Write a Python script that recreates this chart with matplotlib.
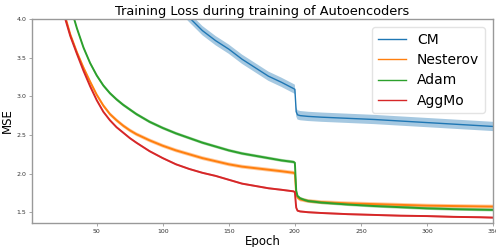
import matplotlib
matplotlib.use("Agg")
import matplotlib.pyplot as plt
import numpy as np

# epochs where the curves were sampled off the picture
epochs = [1, 10, 20, 25, 30, 35, 40, 45, 50, 55, 60, 65, 70, 75, 80, 90, 100,
          110, 120, 130, 140, 150, 160, 170, 180, 190, 199, 200, 201, 202, 204,
          207, 210, 220, 240, 260, 280, 300, 320, 340, 350]

cm_mse = [12.0, 9.0, 7.6, 7.0, 6.5, 6.1, 5.8, 5.5, 5.3, 5.1, 4.95, 4.85, 4.75,
          4.65, 4.58, 4.48, 4.40, 4.20, 4.02, 3.85, 3.72, 3.61, 3.48, 3.37,
          3.26, 3.18, 3.10, 3.09, 2.80, 2.76, 2.75, 2.745, 2.74, 2.73, 2.715,
          2.70, 2.68, 2.66, 2.64, 2.62, 2.61]
nesterov_mse = [8.0, 5.9, 4.55, 4.10, 3.80, 3.57, 3.37, 3.19, 3.02, 2.88, 2.77,
                2.69, 2.62, 2.56, 2.51, 2.43, 2.36, 2.30, 2.25, 2.20, 2.16,
                2.12, 2.09, 2.07, 2.05, 2.03, 2.01, 2.00, 1.74, 1.69, 1.665,
                1.655, 1.645, 1.63, 1.615, 1.605, 1.595, 1.585, 1.58, 1.575,
                1.573]
adam_mse = [9.0, 6.8, 5.1, 4.52, 4.17, 3.88, 3.63, 3.43, 3.27, 3.14, 3.04, 2.96,
            2.89, 2.83, 2.77, 2.67, 2.59, 2.52, 2.46, 2.40, 2.35, 2.30, 2.26,
            2.23, 2.20, 2.17, 2.15, 2.14, 1.78, 1.71, 1.68, 1.66, 1.645, 1.625,
            1.60, 1.58, 1.565, 1.55, 1.54, 1.533, 1.53]
aggmo_mse = [8.0, 5.8, 4.50, 4.07, 3.78, 3.55, 3.33, 3.13, 2.95, 2.80, 2.69,
             2.60, 2.53, 2.46, 2.40, 2.29, 2.20, 2.12, 2.06, 2.01, 1.97, 1.92,
             1.87, 1.84, 1.81, 1.79, 1.77, 1.76, 1.56, 1.52, 1.51, 1.505, 1.50,
             1.49, 1.475, 1.465, 1.455, 1.45, 1.44, 1.435, 1.43]

# half-width of the shaded band for each optimiser
band = {"CM": 0.06, "Nesterov": 0.025, "Adam": 0.02, "AggMo": 0.012}

series = [("CM", cm_mse, "tab:blue", 1.0),
          ("Nesterov", nesterov_mse, "tab:orange", 1.4),
          ("Adam", adam_mse, "tab:green", 1.4),
          ("AggMo", aggmo_mse, "tab:red", 1.4)]

fig = plt.figure(figsize=(4.96, 2.47), dpi=100)
ax = fig.add_axes([0.0645, 0.097, 0.9295, 0.826])

x = np.array(epochs)
for name, values, color, lw in series:
    y = np.array(values)
    ax.fill_between(x, y - band[name], y + band[name], color=color,
                    alpha=0.4, linewidth=0)
    ax.plot(x, y, color=color, linewidth=lw, label=name)

ax.set_xlim(1, 350)
ax.set_ylim(1.36, 4.0)
ax.set_xticks([50, 100, 150, 200, 250, 300, 350])
ax.set_yticks([1.5, 2.0, 2.5, 3.0, 3.5, 4.0])

for spine in ax.spines.values():
    spine.set_color("#999999")
    spine.set_linewidth(1.0)
ax.tick_params(labelsize=4.5, length=2, width=0.6, color="#999999",
               labelcolor="#333333", pad=2)

ax.set_title("Training Loss during training of Autoencoders", fontsize=9.3,
             pad=3)
ax.set_xlabel("Epoch", fontsize=8.5, labelpad=1)
ax.set_ylabel("MSE", fontsize=8.5, labelpad=2)

leg = ax.legend(loc="upper right", fontsize=10, borderaxespad=0.6,
                labelspacing=0.45)
leg.get_frame().set_edgecolor("#dddddd")
for line in leg.get_lines():
    line.set_linewidth(1.0)

fig.savefig("out.png", dpi=100)
